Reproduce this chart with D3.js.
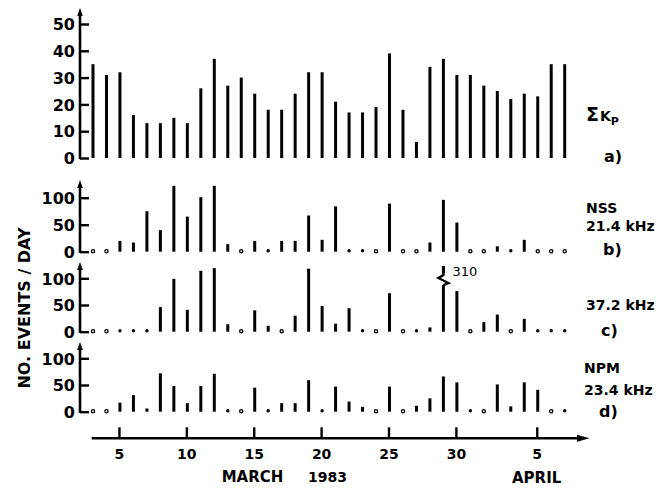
<!DOCTYPE html>
<html>
<head>
<meta charset="utf-8">
<script src="https://cdn.jsdelivr.net/npm/d3@7"></script>
<style>
  body { margin: 0; background: #fff; }
  svg { display: block; }
  text { font-family: "DejaVu Sans", sans-serif; font-weight: bold; fill: #000; }
</style>
</head>
<body>
<svg id="chart" width="672" height="488"></svg>
<script>
"use strict";

// day index: 3..31 = March, 32..38 = April 1..7
const days = [3, 4, 5, 6, 7, 8, 9, 10, 11, 12, 13, 14, 15, 16, 17, 18, 19, 20,
              21, 22, 23, 24, 25, 26, 27, 28, 29, 30, 31, 32, 33, 34, 35, 36, 37, 38];

// a) sum Kp
const sumKp = [35, 31, 32, 16, 13, 13, 15, 13, 26, 37, 27, 30, 24, 18, 18, 24, 32, 32,
               21, 17, 17, 19, 39, 18, 6, 34, 37, 31, 31, 27, 25, 22, 24, 23, 35, 35];
// b) NSS 21.4 kHz, events / day (0 = open circle)
const nss214 = [0, 0, 20, 17, 75, 40, 122, 65, 101, 122, 14, 0, 20, 2, 20, 20, 67, 22,
                84, 2, 2, 0, 89, 0, 0, 17, 96, 54, 0, 0, 10, 2, 22, 0, 0, 0];
// c) 37.2 kHz
const f372 = [0, 0, 2, 2, 2, 46, 99, 41, 114, 119, 14, 0, 40, 11, 0, 30, 118, 48,
              15, 44, 3, 0, 72, 0, 2, 8, 310, 76, 0, 18, 32, 0, 24, 2, 2, 2];
// d) NPM 23.4 kHz
const npm234 = [0, 0, 17, 31, 6, 72, 48, 16, 48, 71, 3, 0, 45, 3, 16, 16, 59, 2,
                47, 19, 9, 0, 47, 0, 11, 25, 66, 55, 2, 0, 51, 10, 55, 41, 0, 2];

const kpTicks = [0, 10, 20, 30, 40, 50];
const eventTicks = [0, 50, 100];
const xTickDays = [5, 10, 15, 20, 25, 30, 36];
const xTickLabels = ["5", "10", "15", "20", "25", "30", "5"];

const svg = d3.select("#chart");
const axisX = 80;

const x = d3.scaleLinear().domain([3, 38]).range([93, 564.7]);

const panels = [
  { values: sumKp, ticks: kpTicks, domain: [0, 50], range: [158, 24], top: 8, cap: 60 },
  { values: nss214, ticks: eventTicks, domain: [0, 100], range: [251.7, 197.7], top: 180, cap: 130 },
  { values: f372, ticks: eventTicks, domain: [0, 100], range: [331.7, 278.3], top: 262, cap: 123 },
  { values: npm234, ticks: eventTicks, domain: [0, 100], range: [411.7, 358.3], top: 342, cap: 130 }
];

function drawPanel(p) {
  const y = d3.scaleLinear().domain(p.domain).range(p.range);
  const g = svg.append("g");

  // y axis, ticks pointing right, labels on the left
  const ax = g.append("g")
      .attr("transform", "translate(" + axisX + ",0)")
      .call(d3.axisLeft(y).tickValues(p.ticks).tickSize(-9).tickPadding(5));
  ax.select(".domain").remove();
  ax.selectAll(".tick line").attr("stroke", "#000").attr("stroke-width", 2.4);
  ax.selectAll(".tick text")
      .attr("font-family", "DejaVu Sans")
      .attr("font-weight", "bold")
      .attr("font-size", 16)
      .attr("dy", "0.36em");

  g.append("line")
      .attr("x1", axisX).attr("x2", axisX)
      .attr("y1", y(0) + 1.2).attr("y2", p.top + 6)
      .attr("stroke", "#000").attr("stroke-width", 2.6);
  g.append("path")
      .attr("d", "M" + axisX + "," + p.top + " L" + (axisX - 2.8) + "," + (p.top + 8) +
                 " L" + (axisX + 2.8) + "," + (p.top + 8) + " Z")
      .attr("fill", "#000");

  const data = days.map((d, i) => ({ day: d, v: p.values[i] }));
  const y0 = y(0);

  // zero days: open circles
  g.selectAll("circle.zero")
    .data(data.filter(d => d.v === 0))
    .join("circle")
      .attr("class", "zero")
      .attr("cx", d => x(d.day)).attr("cy", y0 - 0.5)
      .attr("r", 1.6)
      .attr("fill", "#fff").attr("stroke", "#000").attr("stroke-width", 1.3);

  // very small counts: dots
  g.selectAll("circle.dot")
    .data(data.filter(d => d.v > 0 && y0 - y(d.v) < 3))
    .join("circle")
      .attr("class", "dot")
      .attr("cx", d => x(d.day)).attr("cy", y0 - 1)
      .attr("r", 1.7)
      .attr("fill", "#000");

  // bars
  g.selectAll("line.bar")
    .data(data.filter(d => y0 - y(d.v) >= 3))
    .join("line")
      .attr("class", "bar")
      .attr("x1", d => x(d.day)).attr("x2", d => x(d.day))
      .attr("y1", y0).attr("y2", d => y(Math.min(d.v, p.cap)))
      .attr("stroke", "#000").attr("stroke-width", 3);

  // broken bar for off-scale values
  data.filter(d => d.v > p.cap).forEach(d => {
    const bx = x(d.day), top = y(p.cap);
    g.append("rect")
        .attr("x", bx - 6).attr("y", top + 7).attr("width", 12).attr("height", 12)
        .attr("fill", "#fff");
    g.append("path")
        .attr("d", "M" + bx + "," + top + " L" + bx + "," + (top + 9) +
                   " L" + (bx - 5) + "," + (top + 12) +
                   " L" + (bx + 5) + "," + (top + 17) +
                   " L" + bx + "," + (top + 19))
        .attr("fill", "none").attr("stroke", "#000").attr("stroke-width", 2.4)
        .attr("stroke-linejoin", "miter");
    g.append("text")
        .attr("x", bx + 9).attr("y", top + 10)
        .attr("font-size", 13)
        .style("font-weight", "normal")
        .text(d.v);
  });
}

panels.forEach(drawPanel);

// right-hand labels
const kpLabel = svg.append("text").attr("x", 586).attr("y", 121);
kpLabel.append("tspan").attr("font-size", 19).text("Σ");
kpLabel.append("tspan").attr("font-size", 14).attr("dx", 1).text("K");
kpLabel.append("tspan").attr("font-size", 11).attr("dy", 4).text("P");

const sideTexts = [
  { t: "a)", x: 604, y: 162, s: 16 },
  { t: "NSS", x: 586, y: 213, s: 14 },
  { t: "21.4 kHz", x: 586, y: 231, s: 14 },
  { t: "b)", x: 603, y: 255, s: 16 },
  { t: "37.2 kHz", x: 586, y: 310, s: 14 },
  { t: "c)", x: 601, y: 336, s: 16 },
  { t: "NPM", x: 584, y: 373, s: 14 },
  { t: "23.4 kHz", x: 584, y: 395, s: 14 },
  { t: "d)", x: 599, y: 417, s: 16 }
];
svg.selectAll("text.side")
  .data(sideTexts)
  .join("text")
    .attr("class", "side")
    .attr("x", d => d.x).attr("y", d => d.y)
    .attr("font-size", d => d.s)
    .text(d => d.t);

// y title
svg.append("text")
    .attr("transform", "translate(30,308) rotate(-90)")
    .attr("text-anchor", "middle")
    .attr("font-size", 16)
    .text("NO. EVENTS / DAY");

// x axis with arrow
const xAxisY = 438.3;
const xa = svg.append("g")
    .attr("transform", "translate(0," + xAxisY + ")")
    .call(d3.axisBottom(x).tickValues(xTickDays).tickSize(-11).tickPadding(8)
            .tickFormat((d, i) => xTickLabels[i]));
xa.select(".domain").remove();
xa.selectAll(".tick line").attr("stroke", "#000").attr("stroke-width", 2.4)
    .attr("transform", "translate(-1,0)");
xa.selectAll(".tick text")
    .attr("font-family", "DejaVu Sans").attr("font-weight", "bold").attr("font-size", 14)
    .attr("dy", "0.9em").attr("transform", "translate(-1,0)");

svg.append("line")
    .attr("x1", 91.7).attr("x2", 580).attr("y1", xAxisY).attr("y2", xAxisY)
    .attr("stroke", "#000").attr("stroke-width", 2.6);
svg.append("path")
    .attr("d", "M589.5," + xAxisY + " L577," + (xAxisY - 3.5) + " L577," + (xAxisY + 3.5) + " Z")
    .attr("fill", "#000");

svg.append("text").attr("x", 221.7).attr("y", 482).attr("font-size", 15).text("MARCH");
svg.append("text").attr("x", 308).attr("y", 482).attr("font-size", 14).text("1983");
svg.append("text").attr("x", 512).attr("y", 483).attr("font-size", 15).text("APRIL");
</script>
</body>
</html>
